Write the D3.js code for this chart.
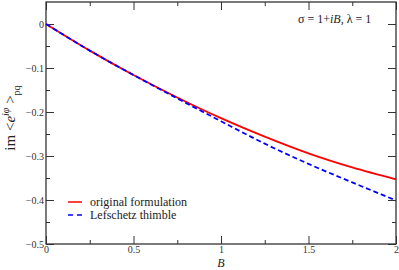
<!DOCTYPE html>
<html>
<head>
<meta charset="utf-8">
<script src="https://cdn.jsdelivr.net/npm/d3@7"></script>
<style>
  body { margin: 0; background: #fff; }
  svg { display: block; font-family: "Liberation Serif", "DejaVu Serif", serif; }
</style>
</head>
<body>
<div id="chart"></div>
<script>
// values
const bValues = [0, 0.25, 0.5, 0.75, 1, 1.25, 1.5, 1.75, 2];
const original = [0, -0.0605, -0.116, -0.167, -0.214, -0.256, -0.294, -0.326, -0.353];
const thimble  = [0, -0.0605, -0.116, -0.169, -0.221, -0.272, -0.318, -0.36, -0.401];

const xTicks = [0, 0.5, 1, 1.5, 2];
const xMinor = [0.25, 0.75, 1.25, 1.75];
const yTicks = [0, -0.1, -0.2, -0.3, -0.4, -0.5];
const yMinor = [-0.05, -0.15, -0.25, -0.35, -0.45];

const seriesNames = ['original formulation', 'Lefschetz thimble'];
const seriesColors = ['#ff0000', '#0000ff'];

const width = 399,
      height = 270;
const plotLeft = 46, plotRight = 396, plotTop = 2, plotBottom = 244;

const x = d3.scaleLinear().domain([0, 2]).range([plotLeft, plotRight]);
const y = d3.scaleLinear().domain([-0.5, 0.05]).range([plotBottom, plotTop]);

const svg = d3.select('#chart')
              .append('svg')
              .attr('width', width)
              .attr('height', height);

const axisColor = '#333';

function styleAxis(g) {
  g.attr('font-family', null).attr('font-size', null);
  g.select('.domain').remove();
  g.selectAll('.tick line').attr('stroke', axisColor).attr('stroke-width', 1);
  g.selectAll('.tick text').attr('fill', '#333').style('font-size', '10px');
}

// bottom axis, ticks pointing inward
svg.append('g')
   .attr('transform', `translate(0,${plotBottom})`)
   .call(d3.axisBottom(x).tickValues(xTicks).tickSize(-8).tickPadding(2)
           .tickFormat(d => d3.format('')(d)))
   .call(styleAxis);
svg.append('g')
   .attr('transform', `translate(0,${plotBottom})`)
   .call(d3.axisBottom(x).tickValues(xMinor).tickSize(-4).tickFormat(''))
   .call(styleAxis);

// top axis
svg.append('g')
   .attr('transform', `translate(0,${plotTop})`)
   .call(d3.axisTop(x).tickValues(xTicks).tickSize(-8).tickFormat(''))
   .call(styleAxis);
svg.append('g')
   .attr('transform', `translate(0,${plotTop})`)
   .call(d3.axisTop(x).tickValues(xMinor).tickSize(-4).tickFormat(''))
   .call(styleAxis);

// left axis
svg.append('g')
   .attr('transform', `translate(${plotLeft},0)`)
   .call(d3.axisLeft(y).tickValues(yTicks).tickSize(-8).tickPadding(2)
           .tickFormat(d => d3.format('')(Math.round(d * 10) / 10)))
   .call(styleAxis);
svg.append('g')
   .attr('transform', `translate(${plotLeft},0)`)
   .call(d3.axisLeft(y).tickValues(yMinor).tickSize(-4).tickFormat(''))
   .call(styleAxis);

// right axis
svg.append('g')
   .attr('transform', `translate(${plotRight},0)`)
   .call(d3.axisRight(y).tickValues(yTicks).tickSize(-8).tickFormat(''))
   .call(styleAxis);
svg.append('g')
   .attr('transform', `translate(${plotRight},0)`)
   .call(d3.axisRight(y).tickValues(yMinor).tickSize(-4).tickFormat(''))
   .call(styleAxis);

// frame
svg.append('rect')
   .attr('x', plotLeft).attr('y', plotTop)
   .attr('width', plotRight - plotLeft).attr('height', plotBottom - plotTop)
   .attr('fill', 'none')
   .attr('stroke', axisColor)
   .attr('stroke-width', 1.3);

// curves
const line = d3.line()
               .x(d => x(d[0]))
               .y(d => y(d[1]))
               .curve(d3.curveMonotoneX);

svg.append('path')
   .datum(bValues.map((b, i) => [b, original[i]]))
   .attr('d', line)
   .attr('fill', 'none')
   .attr('stroke', seriesColors[0])
   .attr('stroke-width', 1.8);

svg.append('path')
   .datum(bValues.map((b, i) => [b, thimble[i]]))
   .attr('d', line)
   .attr('fill', 'none')
   .attr('stroke', seriesColors[1])
   .attr('stroke-width', 1.8)
   .attr('stroke-dasharray', '5,3');

// legend
const legend = svg.append('g').attr('transform', 'translate(68,202)');
seriesNames.forEach((name, i) => {
  const row = legend.append('g').attr('transform', `translate(0,${i * 13})`);
  row.append('line')
     .attr('x1', 0).attr('x2', 14)
     .attr('stroke', seriesColors[i])
     .attr('stroke-width', 1.5)
     .attr('stroke-dasharray', i === 1 ? '5,4' : null);
  row.append('text')
     .attr('x', 22).attr('y', 4)
     .style('font-size', '12px')
     .attr('fill', '#222')
     .text(name);
});

// annotation
const note = svg.append('text')
                .attr('x', 298).attr('y', 23)
                .style('font-size', '12px')
                .attr('fill', '#222');
note.append('tspan').text('σ = 1+');
note.append('tspan').style('font-style', 'italic').text('iB');
note.append('tspan').text(', λ = 1');

// x label
svg.append('text')
   .attr('x', 221).attr('y', 267)
   .attr('text-anchor', 'middle')
   .style('font-size', '12px')
   .style('font-style', 'italic')
   .attr('fill', '#222')
   .text('B');

// y label
const ylab = svg.append('text')
                .attr('transform', 'translate(15,118) rotate(-90)')
                .attr('text-anchor', 'middle')
                .style('font-size', '15px')
                .attr('fill', '#222');
ylab.append('tspan').text('im <');
ylab.append('tspan').style('font-style', 'italic').text('e');
ylab.append('tspan').attr('dy', -6).style('font-size', '10px').style('font-style', 'italic').text('iφ');
ylab.append('tspan').attr('dy', 6).text(' >');
ylab.append('tspan').attr('dy', 5).style('font-size', '10px').text('pq');
</script>
</body>
</html>
